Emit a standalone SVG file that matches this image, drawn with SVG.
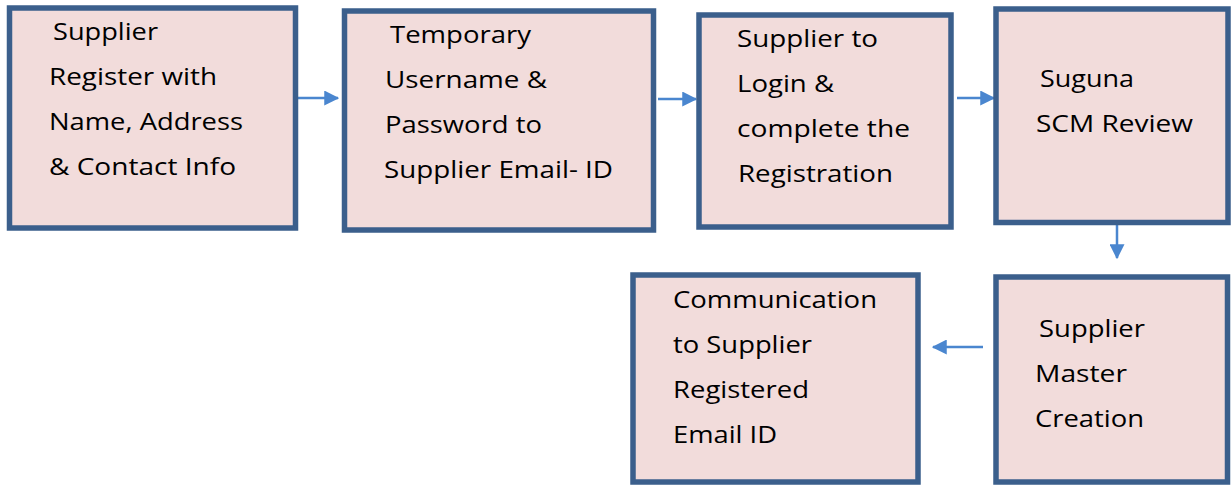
<svg xmlns="http://www.w3.org/2000/svg" width="1231" height="485" viewBox="0 0 1231 485">
<style>
.box{fill:#F2DCDB;stroke:#3B5F8C;stroke-width:5.5}
.t{font-family:"Open Sans","Noto Sans",sans-serif;font-size:24px;fill:#000}
.c{stroke:#4A86CF;stroke-width:2.5;fill:none}
</style>
<defs>
<marker id="ah" markerWidth="6" markerHeight="6" refX="5.5" refY="3" orient="auto" markerUnits="strokeWidth">
<path d="M0,0 L6,3 L0,6 z" fill="#4A86CF"/>
</marker>
</defs>
<rect width="1231" height="485" fill="#fff"/>
<g id="connectors">
<line class="c" x1="298" y1="98" x2="338" y2="98" marker-end="url(#ah)"/>
<line class="c" x1="658" y1="99" x2="696" y2="99" marker-end="url(#ah)"/>
<line class="c" x1="957" y1="98" x2="994" y2="98" marker-end="url(#ah)"/>
<line class="c" x1="1117" y1="225" x2="1117" y2="258" marker-end="url(#ah)"/>
<line class="c" x1="983" y1="347" x2="933" y2="347" marker-end="url(#ah)"/>
</g>
<g id="n1">
<rect class="box" x="9.5" y="8" width="286" height="220"/>
<text class="t" x="53" y="40" textLength="105" lengthAdjust="spacingAndGlyphs">Supplier</text>
<text class="t" x="49" y="85" textLength="168" lengthAdjust="spacingAndGlyphs">Register with</text>
<text class="t" x="49" y="130" textLength="194" lengthAdjust="spacingAndGlyphs">Name, Address</text>
<text class="t" x="49" y="175" textLength="187" lengthAdjust="spacingAndGlyphs">&amp; Contact Info</text>
</g>
<g id="n2">
<rect class="box" x="344.5" y="11" width="309" height="219"/>
<text class="t" x="390" y="43" textLength="141" lengthAdjust="spacingAndGlyphs">Temporary</text>
<text class="t" x="385" y="88" textLength="162" lengthAdjust="spacingAndGlyphs">Username &amp;</text>
<text class="t" x="385" y="133" textLength="157" lengthAdjust="spacingAndGlyphs">Password to</text>
<text class="t" x="384" y="178" textLength="229" lengthAdjust="spacingAndGlyphs">Supplier Email- ID</text>
</g>
<g id="n3">
<rect class="box" x="699" y="15" width="252" height="212"/>
<text class="t" x="737" y="47" textLength="141" lengthAdjust="spacingAndGlyphs">Supplier to</text>
<text class="t" x="737" y="92" textLength="97" lengthAdjust="spacingAndGlyphs">Login &amp;</text>
<text class="t" x="737" y="137" textLength="173" lengthAdjust="spacingAndGlyphs">complete the</text>
<text class="t" x="738" y="182" textLength="155" lengthAdjust="spacingAndGlyphs">Registration</text>
</g>
<g id="n4">
<rect class="box" x="996" y="9" width="232" height="213.5"/>
<text class="t" x="1040" y="87" textLength="94" lengthAdjust="spacingAndGlyphs">Suguna</text>
<text class="t" x="1036" y="132" textLength="157" lengthAdjust="spacingAndGlyphs">SCM Review</text>
</g>
<g id="n5">
<rect class="box" x="996" y="277" width="231.5" height="205"/>
<text class="t" x="1039" y="337" textLength="106" lengthAdjust="spacingAndGlyphs">Supplier</text>
<text class="t" x="1035" y="382" textLength="92" lengthAdjust="spacingAndGlyphs">Master</text>
<text class="t" x="1035" y="427" textLength="109" lengthAdjust="spacingAndGlyphs">Creation</text>
</g>
<g id="n6">
<rect class="box" x="633" y="275" width="285" height="207"/>
<text class="t" x="673" y="308" textLength="204" lengthAdjust="spacingAndGlyphs">Communication</text>
<text class="t" x="673" y="353" textLength="139" lengthAdjust="spacingAndGlyphs">to Supplier</text>
<text class="t" x="673" y="398" textLength="136" lengthAdjust="spacingAndGlyphs">Registered</text>
<text class="t" x="673" y="443" textLength="104" lengthAdjust="spacingAndGlyphs">Email ID</text>
</g>
</svg>
